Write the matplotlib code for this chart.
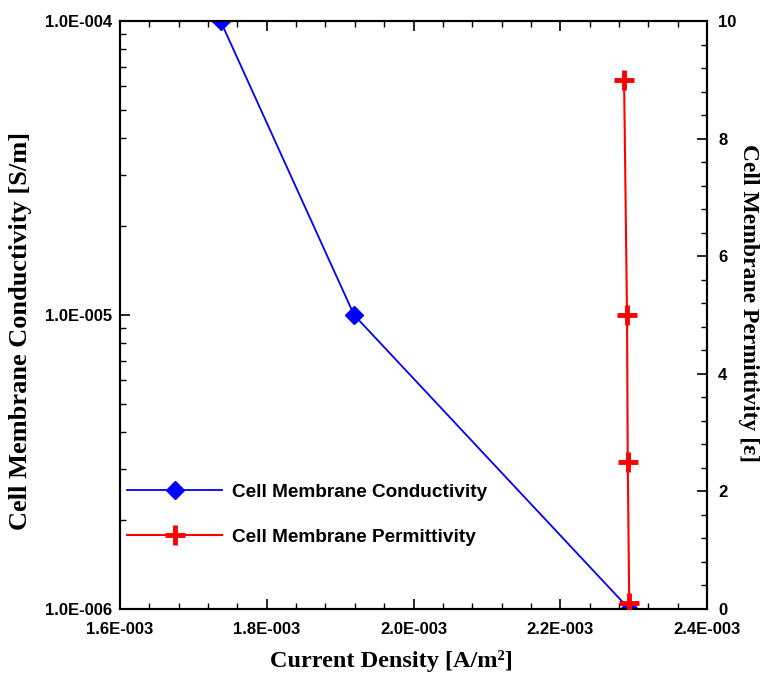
import numpy as np
import matplotlib.pyplot as plt
from matplotlib.ticker import MultipleLocator, LogLocator, FixedFormatter, NullFormatter

# current density [A/m^2]
cond_x = [1.737e-3, 1.919e-3, 2.294e-3]
cond_y = [1e-4, 1e-5, 1e-6]

perm_x = [2.287e-3, 2.291e-3, 2.292e-3, 2.294e-3]
perm_y = [9.0, 5.0, 2.5, 0.1]

left_ticks = [1e-6, 1e-5, 1e-4]
left_labels = ["1.0E-006", "1.0E-005", "1.0E-004"]


def sci_fmt(v, pos):
    return "%.1fE-%03d" % (v * 1e3, 3)


fig = plt.figure(figsize=(7.68, 6.77), dpi=100)
ax = fig.add_axes([120 / 768, 68 / 677, 587 / 768, 588 / 677])
ax2 = ax.twinx()

tick_font = dict(family="Liberation Sans", weight="bold", size=12)

l1, = ax.plot(cond_x, cond_y, color="blue", lw=1.3, marker="D", ms=9,
              label="Cell Membrane Conductivity", zorder=3)
l2, = ax2.plot(perm_x, perm_y, color="red", lw=1.5, marker="+", ms=14, mew=3.5,
               label="Cell Membrane Permittivity", zorder=3)

ax.set_yscale("log")
ax.set_xlim(1.6e-3, 2.4e-3)
ax.set_ylim(1e-6, 1e-4)
ax2.set_ylim(0, 10)

ax.xaxis.set_major_locator(MultipleLocator(0.2e-3))
ax.xaxis.set_minor_locator(MultipleLocator(0.04e-3))
ax.xaxis.set_major_formatter(plt.FuncFormatter(sci_fmt))
ax.set_yticks(left_ticks)
ax.yaxis.set_major_formatter(FixedFormatter(left_labels))
ax.yaxis.set_minor_locator(LogLocator(base=10, subs=np.arange(2, 10)))
ax.yaxis.set_minor_formatter(NullFormatter())

ax2.yaxis.set_major_locator(MultipleLocator(2))
ax2.yaxis.set_minor_locator(MultipleLocator(0.4))

ax.tick_params(axis="x", which="both", direction="in", top=True, pad=9.5)
ax.tick_params(axis="y", which="both", direction="in", right=False, pad=6)
ax.tick_params(which="major", length=7, width=1.2)
ax.tick_params(which="minor", length=4, width=1.0)
ax2.tick_params(axis="y", which="both", direction="in", pad=8)
ax2.tick_params(which="major", length=7, width=1.2)
ax2.tick_params(which="minor", length=4, width=1.0)

for a in (ax, ax2):
    for lab in a.get_xticklabels() + a.get_yticklabels():
        lab.set_fontproperties(tick_font)
    for s in a.spines.values():
        s.set_linewidth(1.5)

ax.set_xlabel("Current Density [A/m\u00b2]", family="Liberation Serif",
              weight="bold", size=17.5)
ax.set_ylabel("Cell Membrane Conductivity [S/m]", family="Liberation Serif",
              weight="bold", size=19)
ax2.set_ylabel("Cell Membrane Permittivity [\u03b5]", family="Liberation Serif",
               weight="bold", size=17, rotation=270)
ax.xaxis.label.set_va("center")
ax.yaxis.label.set_va("center")
ax2.yaxis.label.set_va("center")
ax.xaxis.set_label_coords(0.462, -0.088)
ax.yaxis.set_label_coords(-0.170, 0.473)
ax2.yaxis.set_label_coords(1.0715, 0.520)

leg = ax.legend(handles=[l1, l2], loc="center left", bbox_to_anchor=(0.012, 0.16),
                frameon=False, handlelength=5, handletextpad=0.5,
                labelspacing=1.45, borderpad=0, borderaxespad=0,
                prop=dict(family="Liberation Sans", weight="bold", size=13.7))

plt.savefig("out.png", dpi=100)
